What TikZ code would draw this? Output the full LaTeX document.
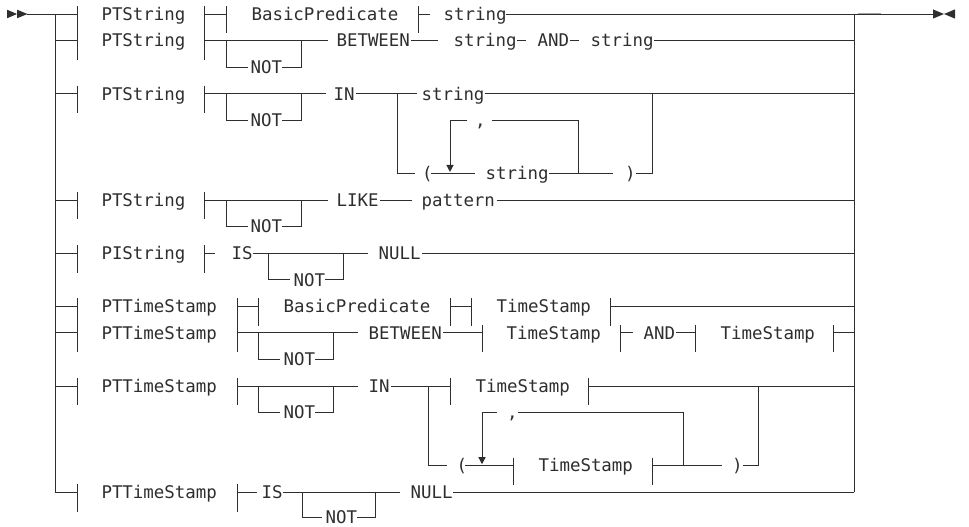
\documentclass[tikz,border=0pt]{standalone}
\usepackage{fontspec}
\newfontfamily\rrfont{DejaVu Sans Mono}
\definecolor{ink}{HTML}{2E2E2E}
\begin{document}
\begin{tikzpicture}[x=1pt,y=-1pt,line width=0.85pt,color=ink,
  lbl/.style={anchor=base west,inner sep=0pt,outer sep=0pt,
    font=\rrfont\fontsize{17.44}{20}\selectfont,text=ink}]
\useasboundingbox (0,0) rectangle (969,527);
\def\yA{14}\def\yB{40.57}\def\yBn{67.14}\def\yC{93.71}\def\yCn{120.28}
\def\yCb{173.42}\def\yD{199.99}\def\yDn{226.56}\def\yE{253.13}\def\yEn{279.7}
\def\yF{306.27}\def\yG{332.84}\def\yGn{359.41}\def\yH{385.98}\def\yHn{412.55}
\def\yHb{465.69}\def\yI{492.26}\def\yIn{517.2}
\def\bo{6.3}
% entry / exit
\fill (7,\yA-4.3) -- (17,\yA) -- (7,\yA+4.3) -- cycle;
\fill (17,\yA-4.3) -- (27.5,\yA) -- (17,\yA+4.3) -- cycle;
\draw (27,\yA) -- (77,\yA);
\draw (55,\yA) -- (55,\yI) -- (77,\yI);
\foreach \yy in {\yB,\yC,\yD,\yE,\yF,\yG,\yH} {\draw (55,\yy) -- (77,\yy);}
\draw (854,\yI) -- (854,\yA) -- (933,\yA);
\draw[line width=1.2pt,ink!45] (858,\yA-0.8) -- (881,\yA-0.8);
\fill (933,\yA-4.6) -- (944,\yA) -- (933,\yA+4.6) -- cycle;
\fill (955,\yA-4.6) -- (944,\yA) -- (955,\yA+4.6) -- cycle;
% left stubs
\draw (77,\yA-8) -- (77,\yB+19.5);
\draw (77,\yC-8) -- (77,\yC+19.5);
\draw (77,\yD-8) -- (77,\yD+19.5);
\draw (77,\yE-8) -- (77,\yE+19.5);
\draw (77,\yF-8) -- (77,\yG+19.5);
\draw (77,\yH-8) -- (77,\yH+19.5);
\draw (77,\yI-8) -- (77,\yI+19.5);
% ---------- row 1
\node[lbl] (pts1) at (101.5,\yA+\bo) {PTString};
\draw (204,\yA-8) -- (204,\yB+19.5);
\draw (204,\yA) -- (226,\yA);
\draw (226,\yA-8) -- (226,\yA+19.5);
\node[lbl] (bp1) at (251.5,\yA+\bo) {BasicPredicate};
\draw (418,\yA-8) -- (418,\yA+19.5);
\draw (418,\yA) -- (430,\yA);
\node[lbl] (str1) at (443.5,\yA+\bo) {string};
\draw (506,\yA) -- (854,\yA);
% ---------- row 2
\node[lbl] (pts2) at (101.5,\yB+\bo) {PTString};
\draw (204,\yB) -- (328,\yB);
\draw (226,\yB) -- (226,\yBn) -- (248,\yBn);
\node[lbl] (not2) at (250.5,\yBn+\bo) {NOT};
\draw (282,\yBn) -- (301,\yBn) -- (301,\yB);
\node[lbl] (btw2) at (336.5,\yB+\bo) {BETWEEN};
\draw (411,\yB) -- (438,\yB);
\node[lbl] (str2a) at (453.5,\yB+\bo) {string};
\draw (517,\yB) -- (526,\yB);
\node[lbl] (and2) at (537.5,\yB+\bo) {AND};
\draw (569.5,\yB) -- (578.5,\yB);
\node[lbl] (str2b) at (590.5,\yB+\bo) {string};
\draw (653.5,\yB) -- (854,\yB);
% ---------- row 3
\node[lbl] (pts3) at (101.5,\yC+\bo) {PTString};
\draw (204,\yC-8) -- (204,\yC+19.5);
\draw (204,\yC) -- (326,\yC);
\draw (226,\yC) -- (226,\yCn) -- (248,\yCn);
\node[lbl] (not3) at (250.5,\yCn+\bo) {NOT};
\draw (282,\yCn) -- (301,\yCn) -- (301,\yC);
\node[lbl] (in3) at (333.5,\yC+\bo) {IN};
\draw (356,\yC) -- (417,\yC);
\node[lbl] (str3) at (421.5,\yC+\bo) {string};
\draw (485,\yC) -- (854,\yC);
\draw (397,\yC) -- (397,\yCb) -- (415,\yCb);
\node[lbl] (lp3) at (422,\yCb+\bo) {(};
\draw (431,\yCb) -- (475,\yCb);
\node[lbl] (str3b) at (485.5,\yCb+\bo) {string};
\draw (549,\yCb) -- (613,\yCb);
\node[lbl] (rp3) at (625,\yCb+\bo) {)};
\draw (636,\yCb) -- (652,\yCb) -- (652,\yC);
\draw (578,\yCb) -- (578,\yCn) -- (492,\yCn);
\node[lbl] (cm3) at (475,\yCn+\bo) {,};
\draw (467,\yCn) -- (450,\yCn) -- (450,\yCb-8);
\fill (446.3,\yCb-8.5) -- (453.7,\yCb-8.5) -- (450,\yCb-1.5) -- cycle;
% ---------- row 4
\node[lbl] (pts4) at (101.5,\yD+\bo) {PTString};
\draw (204,\yD-8) -- (204,\yD+19.5);
\draw (204,\yD) -- (328,\yD);
\draw (226,\yD) -- (226,\yDn) -- (248,\yDn);
\node[lbl] (not4) at (250.5,\yDn+\bo) {NOT};
\draw (282,\yDn) -- (301,\yDn) -- (301,\yD);
\node[lbl] (like4) at (336.5,\yD+\bo) {LIKE};
\draw (380,\yD) -- (412,\yD);
\node[lbl] (pat4) at (421.5,\yD+\bo) {pattern};
\draw (497,\yD) -- (854,\yD);
% ---------- row 5
\node[lbl] (pis5) at (101.5,\yE+\bo) {PIString};
\draw (204,\yE-8) -- (204,\yE+19.5);
\draw (204,\yE) -- (215,\yE);
\node[lbl] (is5) at (231.5,\yE+\bo) {IS};
\draw (253,\yE) -- (368,\yE);
\draw (268,\yE) -- (268,\yEn) -- (290,\yEn);
\node[lbl] (not5) at (293.5,\yEn+\bo) {NOT};
\draw (325,\yEn) -- (343,\yEn) -- (343,\yE);
\node[lbl] (null5) at (378.5,\yE+\bo) {NULL};
\draw (422,\yE) -- (854,\yE);
% ---------- row 6
\node[lbl] (ptt6) at (101.5,\yF+\bo) {PTTimeStamp};
\draw (237,\yF-8) -- (237,\yG+19.5);
\draw (237,\yF) -- (258,\yF);
\draw (258,\yF-8) -- (258,\yF+19.5);
\node[lbl] (bp6) at (283.5,\yF+\bo) {BasicPredicate};
\draw (450,\yF-8) -- (450,\yF+19.5);
\draw (450,\yF) -- (471,\yF);
\draw (471,\yF-8) -- (471,\yF+19.5);
\node[lbl] (ts6) at (496.5,\yF+\bo) {TimeStamp};
\draw (610,\yF-8) -- (610,\yF+19.5);
\draw (610,\yF) -- (854,\yF);
% ---------- row 7
\node[lbl] (ptt7) at (101.5,\yG+\bo) {PTTimeStamp};
\draw (237,\yG) -- (358,\yG);
\draw (258,\yG) -- (258,\yGn) -- (280,\yGn);
\node[lbl] (not7) at (283.5,\yGn+\bo) {NOT};
\draw (315,\yGn) -- (333,\yGn) -- (333,\yG);
\node[lbl] (btw7) at (368.5,\yG+\bo) {BETWEEN};
\draw (443,\yG) -- (482,\yG);
\draw (482,\yG-8) -- (482,\yG+19.5);
\node[lbl] (ts7a) at (506.5,\yG+\bo) {TimeStamp};
\draw (620,\yG-8) -- (620,\yG+19.5);
\draw (620,\yG) -- (633,\yG);
\node[lbl] (and7) at (643.5,\yG+\bo) {AND};
\draw (676,\yG) -- (695,\yG);
\draw (695,\yG-8) -- (695,\yG+19.5);
\node[lbl] (ts7b) at (720.5,\yG+\bo) {TimeStamp};
\draw (833,\yG-8) -- (833,\yG+19.5);
\draw (833,\yG) -- (854,\yG);
% ---------- row 8
\node[lbl] (ptt8) at (101.5,\yH+\bo) {PTTimeStamp};
\draw (237,\yH-8) -- (237,\yH+19.5);
\draw (237,\yH) -- (358,\yH);
\draw (258,\yH) -- (258,\yHn) -- (280,\yHn);
\node[lbl] (not8) at (283.5,\yHn+\bo) {NOT};
\draw (315,\yHn) -- (333,\yHn) -- (333,\yH);
\node[lbl] (in8) at (368.5,\yH+\bo) {IN};
\draw (391,\yH) -- (450,\yH);
\draw (450,\yH-8) -- (450,\yH+19.5);
\node[lbl] (ts8) at (475.5,\yH+\bo) {TimeStamp};
\draw (588,\yH-8) -- (588,\yH+19.5);
\draw (588,\yH) -- (854,\yH);
\draw (428,\yH) -- (428,\yHb) -- (447,\yHb);
\node[lbl] (lp8) at (456.5,\yHb+\bo) {(};
\draw (465,\yHb) -- (513,\yHb);
\draw (513,\yHb-8) -- (513,\yHb+19.5);
\node[lbl] (ts8b) at (538.5,\yHb+\bo) {TimeStamp};
\draw (652,\yHb-8) -- (652,\yHb+19.5);
\draw (652,\yHb) -- (722,\yHb);
\node[lbl] (rp8) at (732,\yHb+\bo) {)};
\draw (743,\yHb) -- (758,\yHb) -- (758,\yH);
\draw (683,\yHb) -- (683,\yHn) -- (518,\yHn);
\node[lbl] (cm8) at (507,\yHn+\bo) {,};
\draw (497,\yHn) -- (482,\yHn) -- (482,\yHb-8);
\fill (478.3,\yHb-8.5) -- (485.7,\yHb-8.5) -- (482,\yHb-1.5) -- cycle;
% ---------- row 9
\node[lbl] (ptt9) at (101.5,\yI+\bo) {PTTimeStamp};
\draw (237,\yI-8) -- (237,\yI+19.5);
\draw (237,\yI) -- (257,\yI);
\node[lbl] (is9) at (261.5,\yI+\bo) {IS};
\draw (283,\yI) -- (400,\yI);
\draw (302,\yI) -- (302,\yIn) -- (322,\yIn);
\node[lbl] (not9) at (325.5,\yIn+\bo) {NOT};
\draw (357,\yIn) -- (375,\yIn) -- (375,\yI);
\node[lbl] (null9) at (410.5,\yI+\bo) {NULL};
\draw (453,\yI) -- (854,\yI);
\end{tikzpicture}
\end{document}
